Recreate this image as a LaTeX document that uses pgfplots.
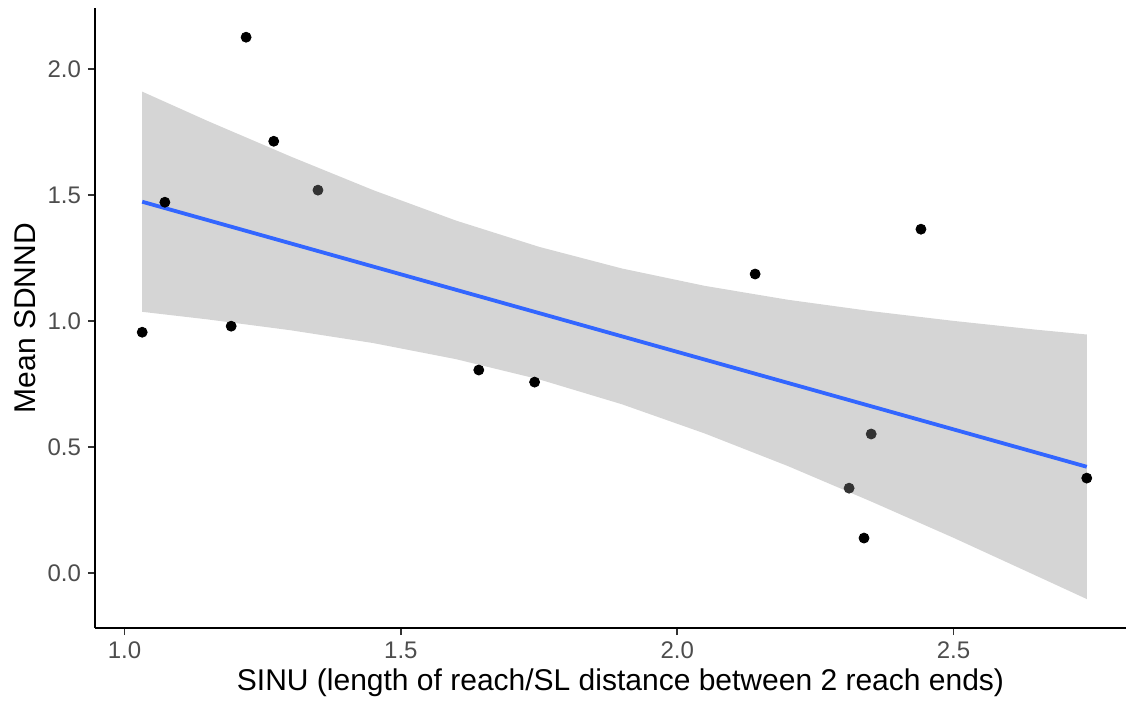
\documentclass[border=0pt]{standalone}
\usepackage{fontspec}
\setmainfont{Liberation Sans}
\usepackage{pgfplots}
\pgfplotsset{compat=1.18}
\definecolor{tickgray}{HTML}{4D4D4D}
\definecolor{ribbon}{HTML}{D5D5D5}
\definecolor{fitblue}{HTML}{3366FF}
\definecolor{axisgray}{HTML}{333333}
\begin{document}
\begin{tikzpicture}
\useasboundingbox (-47.5pt,-40pt) rectangle (515.5pt,314pt);
\begin{axis}[
  scale only axis, width=515.5pt, height=310pt,
  xmin=0.9466, xmax=2.812, ymin=-0.218, ymax=2.243,
  axis x line*=bottom, axis y line*=left,
  axis line style={-, line width=0.9pt, black},
  xtick={1,1.5,2,2.5}, ytick={0,0.5,1,1.5,2},
  xticklabels={1.0,1.5,2.0,2.5}, yticklabels={0.0,0.5,1.0,1.5,2.0},
  tick align=outside, major tick length=3.5pt,
  tick style={line width=0.9pt, axisgray},
  tick label style={font=\fontsize{12}{14}\selectfont, text=tickgray},
  xlabel={SINU (length of reach/SL distance between 2 reach ends)},
  ylabel={Mean SDNND},
  label style={font=\fontsize{15}{18}\selectfont},
  xlabel style={at={(axis description cs:0.5097,-0.0888)}, anchor=center},
  ylabel style={at={(axis description cs:-0.068,0.5)}, anchor=center},
]
% confidence band: upper edge left to right, lower edge right to left
\addplot[fill=ribbon, draw=none] coordinates {
  (1.032,1.911) (1.15,1.795) (1.3,1.654) (1.45,1.520) (1.6,1.399)
  (1.75,1.295) (1.9,1.209) (2.05,1.140) (2.2,1.085) (2.35,1.040)
  (2.5,1.001) (2.65,0.966) (2.741,0.947)
  (2.741,-0.103) (2.65,-0.011) (2.5,0.140) (2.35,0.285) (2.2,0.425)
  (2.05,0.554) (1.9,0.670) (1.75,0.769) (1.6,0.849) (1.45,0.913)
  (1.3,0.964) (1.15,1.007) (1.032,1.037)
};
% fitted line
\addplot[fitblue, line width=1.9pt] coordinates {(1.032,1.474) (2.741,0.422)};
% observations
\addplot[only marks, mark=*, mark size=2.5pt, black] coordinates {
  (1.032,0.956) (1.073,1.472) (1.193,0.980) (1.220,2.127) (1.270,1.714)
  (1.641,0.806) (1.742,0.758) (2.141,1.187) (2.338,0.139) (2.441,1.365)
  (2.741,0.377)
};
\addplot[only marks, mark=*, mark size=2.5pt, axisgray] coordinates {
  (1.350,1.520) (2.311,0.337) (2.351,0.552)
};
\end{axis}
\end{tikzpicture}
\end{document}
